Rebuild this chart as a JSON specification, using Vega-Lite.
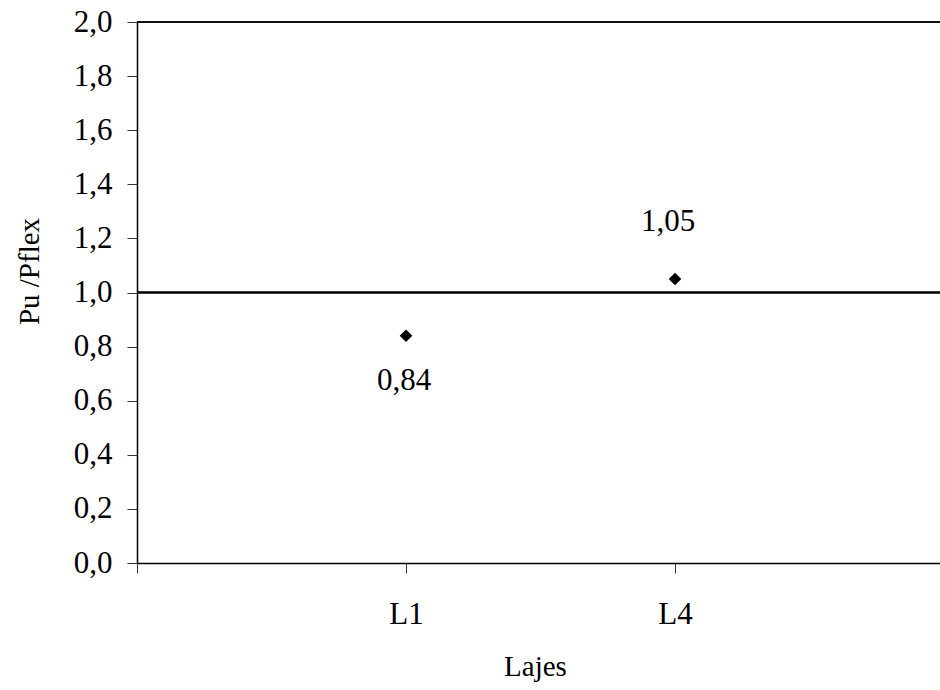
{
  "$schema": "https://vega.github.io/schema/vega-lite/v6.json",
  "width": 803,
  "height": 541,
  "autosize": {"type": "none"},
  "padding": {"left": 137, "top": 22, "right": 0, "bottom": 127},
  "background": "white",
  "config": {
    "locale": {"number": {"decimal": ",", "thousands": ".", "grouping": [3], "currency": ["", ""]}},
    "font": "Liberation Serif",
    "view": {"stroke": null},
    "axis": {
      "labelFont": "Liberation Serif",
      "titleFont": "Liberation Serif",
      "labelColor": "black",
      "titleColor": "black",
      "domainColor": "black",
      "domainWidth": 1.5,
      "tickColor": "#333333",
      "tickWidth": 1,
      "tickSize": 10,
      "labelFontSize": 31,
      "titleFontSize": 29,
      "titleFontWeight": "normal",
      "grid": false
    }
  },
  "data": {"values": [
    {"Laje": "L1", "Pu_Pflex": 0.84},
    {"Laje": "L4", "Pu_Pflex": 1.05}
  ]},
  "layer": [
    {
      "mark": {"type": "rule", "color": "black", "strokeWidth": 1.5},
      "encoding": {"y": {"datum": 2}}
    },
    {
      "mark": {"type": "rule", "color": "black", "strokeWidth": 2},
      "encoding": {"y": {"datum": 1}}
    },
    {
      "mark": {"type": "point", "shape": "diamond", "filled": true, "color": "black", "size": 160, "opacity": 1},
      "encoding": {
        "x": {
          "field": "Laje", "type": "ordinal",
          "scale": {"type": "point", "domain": ["a", "L1", "L4", "b"], "range": [0, 807], "padding": 0},
          "axis": {
            "title": "Lajes",
            "labelAngle": 0,
            "labelExpr": "datum.label == 'L1' || datum.label == 'L4' ? datum.label : ''",
            "labelBaseline": "alphabetic",
            "labelPadding": 50,
            "titleX": 398,
            "titleY": 112,
            "titleBaseline": "alphabetic",
            "titleAlign": "center"
          }
        },
        "y": {
          "field": "Pu_Pflex", "type": "quantitative",
          "scale": {"domain": [0, 2], "nice": false, "zero": true},
          "axis": {
            "title": "Pu /Pflex",
            "values": [0, 0.2, 0.4, 0.6, 0.8, 1.0, 1.2, 1.4, 1.6, 1.8, 2.0],
            "format": ".1f",
            "labelPadding": 15,
            "labelBaseline": "middle",
            "titleX": -99,
            "titleY": 249,
            "titleAngle": -90,
            "titleBaseline": "alphabetic",
            "titleAlign": "center"
          }
        }
      }
    },
    {
      "transform": [{"filter": "datum.Laje == 'L4'"}],
      "mark": {"type": "text", "fontSize": 31, "font": "Liberation Serif", "color": "black", "baseline": "alphabetic", "align": "center", "dy": -48, "dx": -7},
      "encoding": {
        "x": {"field": "Laje", "type": "ordinal"},
        "y": {"field": "Pu_Pflex", "type": "quantitative"},
        "text": {"field": "Pu_Pflex", "type": "quantitative", "format": ".2f"}
      }
    },
    {
      "transform": [{"filter": "datum.Laje == 'L1'"}],
      "mark": {"type": "text", "fontSize": 31, "font": "Liberation Serif", "color": "black", "baseline": "alphabetic", "align": "center", "dy": 54, "dx": -2},
      "encoding": {
        "x": {"field": "Laje", "type": "ordinal"},
        "y": {"field": "Pu_Pflex", "type": "quantitative"},
        "text": {"field": "Pu_Pflex", "type": "quantitative", "format": ".2f"}
      }
    }
  ]
}
